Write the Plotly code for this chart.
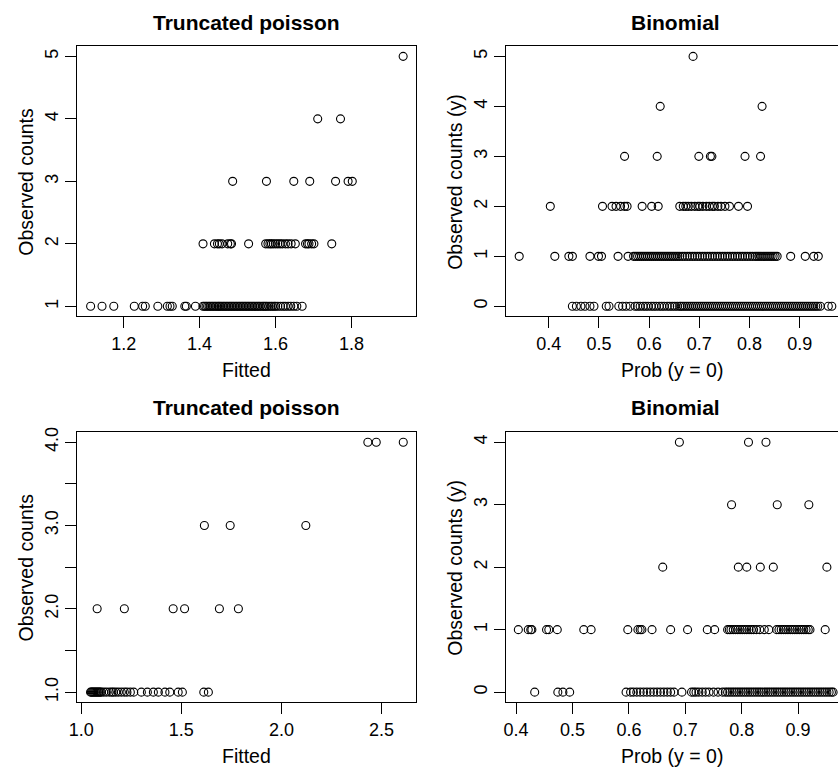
import plotly.graph_objects as go

# ---------------- data ----------------
# Top-left: Truncated poisson (Fitted vs Observed counts)
tl_c1 = [1.113, 1.143, 1.174, 1.228, 1.250, 1.257, 1.290, 1.315, 1.322, 1.328, 1.361, 1.365, 1.389,
         1.409, 1.413, 1.417, 1.421, 1.425, 1.429, 1.433, 1.437, 1.441, 1.445, 1.449, 1.452, 1.456,
         1.460, 1.464, 1.468, 1.472, 1.476, 1.480, 1.484, 1.488, 1.492, 1.496, 1.500, 1.504, 1.508,
         1.512, 1.516, 1.520, 1.524, 1.528, 1.532, 1.536, 1.540, 1.544, 1.548, 1.552, 1.556, 1.560,
         1.565, 1.569, 1.573, 1.577, 1.582, 1.587, 1.591, 1.596, 1.600, 1.606, 1.613, 1.620, 1.626,
         1.633, 1.640, 1.648, 1.656, 1.670]
tl_c2 = [1.409, 1.439, 1.447, 1.452, 1.459, 1.474, 1.481, 1.484, 1.529, 1.574, 1.580, 1.585, 1.589,
         1.594, 1.600, 1.606, 1.612, 1.618, 1.626, 1.633, 1.641, 1.652, 1.679, 1.684, 1.688, 1.695,
         1.701, 1.748]
tl_c3 = [1.487, 1.576, 1.648, 1.690, 1.758, 1.791, 1.802]
tl_c4 = [1.711, 1.771]
tl_c5 = [1.936]

# Top-right: Binomial (Prob(y=0) vs Observed counts)
tr_c0 = [0.447, 0.455, 0.464, 0.472, 0.482, 0.490, 0.5145, 0.520, 0.5395, 0.547, 0.554, 0.562,
         0.572, 0.577, 0.582, 0.588, 0.593, 0.598, 0.604, 0.609, 0.614, 0.620, 0.625, 0.630, 0.636,
         0.641, 0.646, 0.651, 0.656, 0.661, 0.664, 0.668, 0.672, 0.676, 0.680, 0.684, 0.688, 0.692,
         0.696, 0.700, 0.704, 0.708, 0.712, 0.716, 0.720, 0.724, 0.728, 0.732, 0.736, 0.740, 0.744,
         0.748, 0.752, 0.756, 0.760, 0.764, 0.768, 0.772, 0.776, 0.780, 0.784, 0.788, 0.792, 0.796,
         0.800, 0.804, 0.808, 0.812, 0.816, 0.820, 0.824, 0.828, 0.832, 0.836, 0.840, 0.844, 0.848,
         0.852, 0.856, 0.860, 0.864, 0.868, 0.872, 0.876, 0.880, 0.884, 0.888, 0.892, 0.896, 0.900,
         0.904, 0.908, 0.912, 0.916, 0.920, 0.924, 0.928, 0.932, 0.936, 0.941, 0.957, 0.964]
tr_c1 = [0.341, 0.412, 0.440, 0.447, 0.482, 0.499, 0.505, 0.538, 0.558,
         0.569, 0.573, 0.577, 0.581, 0.585, 0.589, 0.593, 0.597, 0.601, 0.605, 0.609, 0.613, 0.617,
         0.621, 0.625, 0.629, 0.633, 0.637, 0.641, 0.645, 0.649, 0.653, 0.657, 0.661, 0.666, 0.671,
         0.676, 0.681, 0.686, 0.691, 0.696, 0.701, 0.706, 0.711, 0.716, 0.721, 0.726, 0.731, 0.736,
         0.741, 0.746, 0.751, 0.756, 0.761, 0.766, 0.771, 0.776, 0.781, 0.786, 0.791, 0.796, 0.801,
         0.806, 0.811, 0.815, 0.819, 0.823, 0.827, 0.831, 0.835, 0.839, 0.843, 0.847, 0.851, 0.855,
         0.882, 0.911, 0.928, 0.937]
tr_c2 = [0.403, 0.507, 0.526, 0.534, 0.543, 0.551, 0.556, 0.586, 0.605, 0.618, 0.661, 0.668, 0.673,
         0.678, 0.684, 0.691, 0.697, 0.701, 0.707, 0.714, 0.720, 0.726, 0.730, 0.737, 0.743, 0.751,
         0.760, 0.778, 0.796]
tr_c3 = [0.551, 0.616, 0.699, 0.722, 0.725, 0.791, 0.822]
tr_c4 = [0.622, 0.825]
tr_c5 = [0.6875]

# Bottom-left: Truncated poisson
bl_c1 = [1.046, 1.050, 1.055, 1.060, 1.065, 1.070, 1.075, 1.080, 1.085, 1.090, 1.095, 1.100, 1.112,
         1.125, 1.140, 1.152, 1.160, 1.172, 1.185, 1.200, 1.215, 1.228, 1.245, 1.262, 1.300, 1.330,
         1.360, 1.385, 1.418, 1.442, 1.484, 1.505, 1.612, 1.635]
bl_c2 = [1.079, 1.215, 1.459, 1.516, 1.690, 1.785]
bl_c3 = [1.615, 1.744, 2.122]
bl_c4 = [2.432, 2.474, 2.609]

# Bottom-right: Binomial
br_c0 = [0.433, 0.474, 0.483, 0.495, 0.595, 0.603, 0.608, 0.614, 0.620, 0.626, 0.632, 0.638, 0.644,
         0.650, 0.656, 0.662, 0.668, 0.674, 0.680, 0.694, 0.711, 0.715, 0.719, 0.724, 0.730, 0.736,
         0.742, 0.750, 0.758, 0.766, 0.771, 0.775, 0.779, 0.783, 0.787, 0.791, 0.795, 0.799, 0.803,
         0.807, 0.811, 0.815, 0.819, 0.823, 0.827, 0.831, 0.835, 0.839, 0.843, 0.847, 0.851, 0.855,
         0.859, 0.863, 0.867, 0.871, 0.875, 0.879, 0.883, 0.887, 0.891, 0.895, 0.899, 0.903, 0.907,
         0.911, 0.915, 0.919, 0.923, 0.927, 0.931, 0.935, 0.939, 0.943, 0.947, 0.951, 0.955, 0.959,
         0.962]
br_c1 = [0.404, 0.4216, 0.426, 0.428, 0.454, 0.458, 0.473, 0.520, 0.533, 0.598, 0.616, 0.620, 0.623,
         0.641, 0.674, 0.704, 0.739, 0.752, 0.775, 0.778, 0.781, 0.785, 0.789, 0.793, 0.797, 0.801,
         0.805, 0.809, 0.813, 0.817, 0.821, 0.826, 0.832, 0.840, 0.848, 0.862, 0.866, 0.870, 0.874,
         0.878, 0.882, 0.886, 0.890, 0.894, 0.898, 0.902, 0.906, 0.910, 0.914, 0.918, 0.921, 0.948]
br_c2 = [0.660, 0.794, 0.809, 0.833, 0.856, 0.951]
br_c3 = [0.782, 0.863, 0.919]
br_c4 = [0.6895, 0.812, 0.843]

titles = ["Truncated poisson", "Binomial", "Truncated poisson", "Binomial"]
xlabels = ["Fitted", "Prob (y = 0)", "Fitted", "Prob (y = 0)"]
ylabels = ["Observed counts", "Observed counts (y)", "Observed counts", "Observed counts (y)"]

tl_xticks = [1.2, 1.4, 1.6, 1.8]
tl_yticks = [1, 2, 3, 4, 5]
tr_xticks = [0.4, 0.5, 0.6, 0.7, 0.8, 0.9]
tr_yticks = [0, 1, 2, 3, 4, 5]
bl_xticks = [1.0, 1.5, 2.0, 2.5]
bl_xtext = ["1.0", "1.5", "2.0", "2.5"]
bl_yticks = [1.0, 1.5, 2.0, 2.5, 3.0, 3.5, 4.0]
bl_ytext = ["1.0", "", "2.0", "", "3.0", "", "4.0"]
br_xticks = [0.4, 0.5, 0.6, 0.7, 0.8, 0.9]
br_yticks = [0, 1, 2, 3, 4]


def stack(levels, start):
    xs, ys = [], []
    for i, lv in enumerate(levels):
        xs += lv
        ys += [start + i] * len(lv)
    return xs, ys


tl_x, tl_y = stack([tl_c1, tl_c2, tl_c3, tl_c4, tl_c5], 1)
tr_x, tr_y = stack([tr_c0, tr_c1, tr_c2, tr_c3, tr_c4, tr_c5], 0)
bl_x, bl_y = stack([bl_c1, bl_c2, bl_c3, bl_c4], 1)
br_x, br_y = stack([br_c0, br_c1, br_c2, br_c3, br_c4], 0)

# ---------------- figure ----------------
W, H = 838, 767
FONT = "Liberation Sans, Arial, Helvetica, sans-serif"

marker = dict(symbol="circle-open", size=8, color="black", line=dict(width=1.1, color="black"))

fig = go.Figure()
for xs, ys, xa, ya in [(tl_x, tl_y, "x", "y"), (tr_x, tr_y, "x2", "y2"),
                       (bl_x, bl_y, "x3", "y3"), (br_x, br_y, "x4", "y4")]:
    fig.add_trace(go.Scatter(x=xs, y=ys, mode="markers", marker=marker,
                             xaxis=xa, yaxis=ya, showlegend=False, hoverinfo="skip"))

# pixel boxes: (left, right, top, bottom)
boxes = [(70, 412, 41.7, 313.3), (503.3, 838, 41.7, 313.3),
         (70, 412, 430, 701.7), (503.3, 838, 430, 701.7)]


def xd(l, r):
    return [l / W, r / W]


def yd(t, b):
    return [1 - b / H, 1 - t / H]


axcommon = dict(showline=True, linecolor="black", linewidth=1, ticks="outside", ticklen=11,
                tickcolor="black", tickwidth=1, showgrid=False, zeroline=False,
                tickfont=dict(family=FONT, size=18, color="black"))

xranges = [[1.078, 1.970], [0.3157, 0.9763], [0.98, 2.673], [0.383, 0.9707]]
yranges = [[0.841, 5.159], [-0.199, 5.199], [0.88, 4.12], [-0.16, 4.16]]
xtv = [(tl_xticks, [str(v) for v in tl_xticks]), (tr_xticks, [str(v) for v in tr_xticks]),
       (bl_xticks, bl_xtext), (br_xticks, [str(v) for v in br_xticks])]
ytv = [(tl_yticks, [str(v) for v in tl_yticks]), (tr_yticks, [str(v) for v in tr_yticks]),
       (bl_yticks, bl_ytext), (br_yticks, [str(v) for v in br_yticks])]

layout = {}
for i in range(4):
    l, r, t, b = boxes[i]
    sfx = "" if i == 0 else str(i + 1)
    layout["xaxis" + sfx] = dict(axcommon, domain=xd(l, r), range=xranges[i], mirror=True,
                                 tickmode="array", tickvals=xtv[i][0], ticktext=xtv[i][1],
                                 anchor="y" + sfx)
    layout["yaxis" + sfx] = dict(axcommon, domain=yd(t, b), range=yranges[i],
                                 mirror=(i % 2 == 0), tickangle=-90,
                                 tickmode="array", tickvals=ytv[i][0], ticktext=ytv[i][1],
                                 anchor="x" + sfx)

annotations = []
for i in range(4):
    l, r, t, b = boxes[i]
    rr = 845 if i % 2 == 1 else r
    cx = (l + rr) / 2
    annotations.append(dict(text="<b>" + titles[i] + "</b>", x=cx / W, y=1 - (t - 24.5) / H,
                            xref="paper", yref="paper", xanchor="center", yanchor="middle",
                            showarrow=False, font=dict(family=FONT, size=21, color="black")))
    annotations.append(dict(text=xlabels[i], x=(cx - (4 if i % 2 == 1 else 0)) / W,
                            y=1 - (b + 54.0) / H,
                            xref="paper", yref="paper", xanchor="center", yanchor="middle",
                            showarrow=False, font=dict(family=FONT, size=19.5, color="black")))
    annotations.append(dict(text=ylabels[i], x=(l - 51.5) / W, y=1 - ((t + b) / 2) / H,
                            xref="paper", yref="paper", xanchor="center", yanchor="middle",
                            textangle=-90, showarrow=False,
                            font=dict(family=FONT, size=19.5, color="black")))

fig.update_layout(width=W, height=H, autosize=False, margin=dict(l=0, r=0, t=0, b=0),
                  paper_bgcolor="white", plot_bgcolor="white", annotations=annotations,
                  font=dict(family=FONT, color="black"), **layout)

fig.write_html("out.html", config={"displayModeBar": False, "staticPlot": True},
               post_script="document.body.style.margin='0';document.body.style.overflow='hidden';")
